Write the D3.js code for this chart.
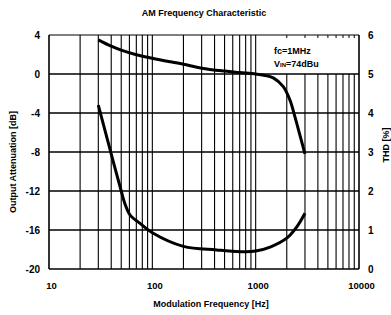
<!DOCTYPE html>
<html>
<head>
<meta charset="utf-8">
<script src="https://cdn.jsdelivr.net/npm/d3@7"></script>
<style>
  body { margin: 0; background: #fff; }
  text { font-family: "Liberation Sans", Arial, sans-serif; font-weight: bold; fill: #000; }
</style>
</head>
<body>
<svg id="chart" width="391" height="315"></svg>
<script>
// values
const attenFreq = [30, 40, 50, 70, 100, 150, 200, 300, 500, 700, 1000, 1200, 1480, 1850, 2150, 2400, 2700, 3000];
const attenDb   = [3.5, 2.85, 2.45, 1.98, 1.62, 1.25, 1.0, 0.6, 0.3, 0.15, 0.0, -0.12, -0.4, -1.3, -2.7, -4.4, -6.4, -8.2];

const thdFreq = [30, 40, 50, 54.5, 61, 76, 100, 200, 420, 800, 1000, 1400, 2000, 2500, 3000];
const thdPct  = [4.2, 2.95, 2.0, 1.66, 1.38, 1.17, 0.93, 0.58, 0.49, 0.44, 0.46, 0.57, 0.79, 1.08, 1.43];

const freqTicks = [10, 100, 1000, 10000];
const dbTicks = [4, 0, -4, -8, -12, -16, -20];
const thdTicks = [6, 5, 4, 3, 2, 1, 0];

const svg = d3.select("#chart");

const x = d3.scaleLog().domain([10, 10000]).range([49, 359]);
const yL = d3.scaleLinear().domain([-20, 4]).range([269, 35]);
const yR = d3.scaleLinear().domain([0, 6]).range([269, 35]);

// grid - verticals (1..9 each decade)
let minorF = x.ticks();
svg.append("g").selectAll("line")
  .data(minorF)
  .enter().append("line")
  .attr("x1", d => x(d)).attr("x2", d => x(d))
  .attr("y1", d => (d > 1000 && d < 10000) ? yL(0) : yL(4))
  .attr("y2", yL(-20))
  .attr("stroke", "#000")
  .attr("stroke-width", d => (d == 10 || d == 10000) ? 1.6 : 1.1);

// little ticks on the top edge above the note box
svg.append("g").selectAll("line")
  .data(minorF.filter(d => d > 1000 && d < 10000))
  .enter().append("line")
  .attr("x1", d => x(d)).attr("x2", d => x(d))
  .attr("y1", yL(4)).attr("y2", yL(4) + 3)
  .attr("stroke", "#000").attr("stroke-width", 1);

// grid - horizontals
svg.append("g").selectAll("line")
  .data(dbTicks)
  .enter().append("line")
  .attr("x1", x(10)).attr("x2", x(10000))
  .attr("y1", d => yL(d)).attr("y2", d => yL(d))
  .attr("stroke", "#000")
  .attr("stroke-width", d => d == 4 ? 1 : 1.7);

// axes
const leftAxis = d3.axisLeft(yL).tickValues(dbTicks).tickSize(0).tickPadding(9).tickFormat(d => String(d));
const rightAxis = d3.axisRight(yR).tickValues(thdTicks).tickSize(0).tickPadding(9).tickFormat(d => String(d));
const bottomAxis = d3.axisBottom(x).tickValues(freqTicks).tickSize(0).tickPadding(13).tickFormat(d => String(d));

svg.append("g").attr("transform", "translate(" + x(10) + ",0)").call(leftAxis)
  .call(g => g.select(".domain").remove())
  .selectAll("text").style("font-size", "10px").attr("dy", "0.35em").attr("font-family", null);
svg.append("g").attr("transform", "translate(" + x(10000) + ",0)").call(rightAxis)
  .call(g => g.select(".domain").remove())
  .selectAll("text").style("font-size", "10px").attr("dy", "0.35em").attr("font-family", null);
svg.append("g").attr("transform", "translate(2," + yL(-20) + ")").call(bottomAxis)
  .call(g => g.select(".domain").remove())
  .selectAll("text").style("font-size", "9.5px").attr("font-family", null);

// curves
const attenLine = d3.line()
  .x((d, i) => x(attenFreq[i]))
  .y(d => yL(d))
  .curve(d3.curveCatmullRom.alpha(0.5));
const thdLine = d3.line()
  .x((d, i) => x(thdFreq[i]))
  .y(d => yR(d))
  .curve(d3.curveCatmullRom.alpha(0.5));

svg.append("path").attr("d", attenLine(attenDb))
  .attr("fill", "none").attr("stroke", "#000").attr("stroke-width", 3);
svg.append("path").attr("d", thdLine(thdPct))
  .attr("fill", "none").attr("stroke", "#000").attr("stroke-width", 3);

// note in the corner
let note = svg.append("g").style("font-size", "9px");
note.append("text").attr("x", 274).attr("y", 54).text("fc=1MHz");
let vin = note.append("text").attr("x", 274).attr("y", 67);
vin.append("tspan").text("V");
vin.append("tspan").style("font-size", "6px").text("IN");
vin.append("tspan").text("=74dBu");

// titles
svg.append("text").attr("x", 204).attr("y", 16).attr("text-anchor", "middle")
  .style("font-size", "9px").text("AM Frequency Characteristic");
svg.append("text").attr("x", 211).attr("y", 307).attr("text-anchor", "middle")
  .style("font-size", "9px").text("Modulation Frequency [Hz]");
svg.append("text").attr("transform", "translate(16,162) rotate(-90)").attr("text-anchor", "middle")
  .style("font-size", "9px").text("Output Attenuation [dB]");
svg.append("text").attr("transform", "translate(389,145) rotate(-90)").attr("text-anchor", "middle")
  .style("font-size", "9px").text("THD [%]");
</script>
</body>
</html>
